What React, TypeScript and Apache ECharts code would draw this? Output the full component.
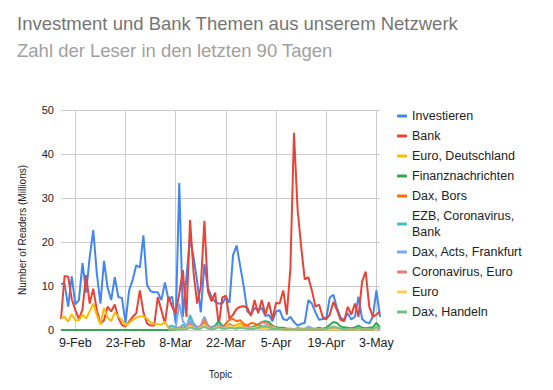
import React, { useEffect, useRef } from "react";
import * as echarts from "echarts";

const START = new Date(2020, 1, 5);
const DAY_COUNT = 90;
const MONTHS = ["Jan", "Feb", "Mar", "Apr", "May", "Jun", "Jul", "Aug", "Sep", "Oct", "Nov", "Dec"];
const categories: string[] = Array.from({ length: DAY_COUNT }, (_, i) => {
  const d = new Date(START.getTime());
  d.setDate(d.getDate() + i);
  return `${d.getDate()}-${MONTHS[d.getMonth()]}`;
});
const tickLabels = ["9-Feb", "23-Feb", "8-Mar", "22-Mar", "5-Apr", "19-Apr", "3-May"];
const yTicks = [0, 10, 20, 30, 40, 50];

const investieren = [
  10.5, 10.5, 5.3, 12.2, 5.8, 6.8, 15.2, 8.5, 16.5, 22.7,
  12.8, 6, 15.7, 9.6, 6.8, 12, 7.5, 7.3, 1.6, 9,
  11.4, 14.7, 14.2, 21.5, 10.2, 8.8, 8.6, 8.6, 6.8, 10.8,
  6.8, 7.6, 1.5, 33.4, 3, 12, 20.8, 16.5, 11, 4,
  15, 9.5, 7.5, 6.4, 6, 6, 7.5, 6.2, 17, 19.2,
  14.5, 9.8, 4.2, 3.5, 5, 4.6, 5, 3.2, 3.4, 2,
  4.2, 4.5, 2.5, 2.2, 3, 1.8, 1, 1.4, 1.6, 6.8,
  6, 4, 2.3, 2.5, 2.5, 7.4, 8, 5, 2.8, 2.3,
  3.8, 2.4, 3, 7.6, 2.5, 1.8, 1.5, 3, 9, 3,
];
const bank = [
  2.5, 12.3, 12.1, 7, 4.5, 2.5, 4.7, 12.5, 6, 9.4,
  4.5, 1.5, 2.2, 5.3, 4.2, 5.8, 2.7, 1.1, 0.8, 1.9,
  3, 3.8, 9, 4, 1.5, 1, 1, 7.5, 4.5, 1.5,
  7.6, 5.3, 3.8, 8.3, 13.6, 3, 25, 12.9, 6, 9.8,
  24.8, 8.7, 6.5, 8.5, 1, 7.4, 7.8, 2.5, 3.5, 4.8,
  5.3, 5.4, 5, 3.2, 6.8, 3.8, 6.8, 3.5, 6.3, 2.5,
  6.2, 6, 9, 3.5, 14, 44.8, 27.5, 19, 11.5, 12,
  9, 5.3, 5.8, 3, 2.5, 3.5, 6.4, 4.5, 2.3, 2,
  5.3, 3.5, 6, 3, 11, 13.3, 5.3, 3, 3.5, 4.2,
];
const euroDeutschland = [
  2.7, 3, 1.9, 3.6, 2.2, 2.2, 3.5, 2.6, 4.3, 6,
  3.4, 1.2, 5, 2.8, 2, 4, 3, 2.3, 1, 1.6,
  2.3, 2.8, 3.1, 3.1, 2.6, 1.7, 1.4, 1.3, 1.2, 1.9,
  0.4, 0.3, 0.2, 0.5, 0.3, 0.2, 1.5, 0.5, 0.3, 0.8,
  1.8, 0.5, 0.3, 0.6, 1.2, 0.5, 0.8, 1.5, 0.8, 1.2,
  1.5, 1, 0.6, 0.4, 0.8, 1.2, 0.5, 0.4, 0.8, 1,
  0.5, 0.3, 0.2, 0.2, 0.1, 0.2, 0.3, 0.2, 0.2, 0.1,
  0.2, 0.2, 0.3, 0.2, 0.2, 0.2, 0.1, 0.2, 0.2, 0.3,
  0.2, 0.2, 0.1, 0.2, 0.4, 0.2, 0.1, 0.2, 0.3, 0.2,
];
const finanznachrichten = [
  0, 0, 0, 0, 0, 0, 0, 0, 0, 0,
  0, 0, 0, 0, 0, 0, 0, 0, 0, 0,
  0, 0, 0, 0, 0, 0, 0, 0, 0, 0,
  0, 0, 0.1, 0.2, 0.3, 0.5, 1.2, 0.8, 0.3, 0.5,
  1, 0.5, 0.6, 1, 2, 1, 0.5, 1.2, 0.8, 0.6,
  1, 0.8, 0.6, 0.5, 0.8, 1.3, 1.8, 2, 1.8, 1,
  0.6, 0.5, 0.5, 0.3, 0.3, 0.2, 0.4, 0.3, 0.3, 0.2,
  0.3, 0.3, 0.5, 0.3, 0.5, 1.2, 1.8, 1.6, 0.8, 0.6,
  0.5, 0.4, 0.6, 1, 0.5, 0.4, 0.5, 0.6, 1.6, 0.6,
];
const N = null;
const daxBors = [
  N, N, N, N, N, N, N, N, N, N,
  N, N, N, N, N, N, N, N, N, N,
  N, N, N, N, N, N, N, N, N, N,
  0.2, 0.3, 0.2, 0.4, 0.3, 0.6, 2, 0.8, 0.4, 0.6,
  1.5, 0.6, 0.4, 0.8, 1.2, 0.6, 1.5, 2.3, 2.5, 2,
  2.2, 1.4, 1, 1.6, 1.5, 1, 0.8, 0.6, 0.5, 0.4,
  0.3, 0.2, 0.2, 0.1, 0.2, 0.2, 0.1, 0.1, 0.2, 0.1,
  0.1, 0.2, 0.1, 0.1, 0.2, 0.1, 0.1, 0.1, 0.2, 0.1,
  0.1, 0.1, 0.2, 0.1, 0.1, 0.2, 0.1, 0.1, 0.2, 0.1,
];
const ezbCoronavirusBank = [
  N, N, N, N, N, N, N, N, N, N,
  N, N, N, N, N, N, N, N, N, N,
  N, N, N, N, N, N, N, N, N, N,
  0.8, 1, 0.6, 0.4, 1.2, 0.6, 3.4, 1.5, 0.6, 1,
  3, 1, 0.5, 0.8, 1.5, 0.6, 0.5, 0.8, 1, 0.6,
  0.5, 0.4, 0.5, 0.3, 0.5, 0.4, 0.6, 0.4, 0.3, 0.3,
  0.2, 0.3, 0.2, 0.2, 0.1, 0.2, 0.2, 0.1, 0.2, 0.1,
  0.2, 0.1, 0.1, 0.2, 0.1, 0.2, 0.1, 0.1, 0.2, 0.1,
  0.1, 0.2, 0.1, 0.1, 0.2, 0.1, 0.1, 0.2, 0.1, 0.1,
];
const daxActsFrankfurt = [
  N, N, N, N, N, N, N, N, N, N,
  N, N, N, N, N, N, N, N, N, N,
  N, N, N, N, N, N, N, N, N, N,
  0.6, 0.3, 0.5, 6, 2, 0.8, 2.4, 0.8, 0.5, 0.7,
  3, 0.8, 0.5, 0.6, 1, 0.4, 0.6, 1, 0.6, 0.5,
  0.8, 0.5, 0.4, 0.3, 0.5, 0.4, 0.3, 0.4, 0.3, 0.2,
  0.3, 0.2, 0.2, 0.3, 0.2, 0.2, 0.1, 0.2, 0.2, 0.8,
  0.4, 0.2, 0.2, 0.1, 0.2, 0.6, 0.4, 0.2, 0.2, 0.1,
  0.2, 0.1, 0.2, 0.5, 0.2, 0.1, 0.1, 0.2, 0.6, 0.2,
];
const coronavirusEuro = [
  N, N, N, N, N, N, N, N, N, N,
  N, N, N, N, N, N, N, N, N, N,
  N, N, N, N, N, N, N, N, N, N,
  0.3, 0.2, 0.4, 0.6, 0.5, 0.4, 1.5, 0.6, 0.4, 0.8,
  2.5, 0.8, 0.4, 0.6, 1, 0.5, 0.6, 1.2, 0.6, 0.4,
  0.6, 0.5, 0.8, 0.5, 0.4, 0.6, 1.8, 1.5, 1.2, 0.8,
  0.4, 0.3, 0.2, 0.2, 0.3, 0.2, 0.1, 0.2, 0.1, 0.2,
  0.1, 0.2, 0.1, 0.2, 0.1, 0.2, 0.3, 0.1, 0.2, 0.1,
  0.2, 0.1, 0.2, 0.3, 0.1, 0.2, 0.1, 0.2, 0.3, 0.1,
];
const euro = [
  N, N, N, N, N, N, N, N, N, N,
  N, N, N, N, N, N, N, N, N, N,
  N, N, N, N, N, N, N, N, N, N,
  0.2, 0.1, 0.2, 0.3, 0.2, 0.3, 1, 0.4, 0.2, 0.5,
  1.2, 0.4, 0.2, 0.4, 0.8, 0.3, 0.5, 1, 0.6, 0.8,
  1, 0.6, 0.4, 0.3, 0.5, 0.6, 0.4, 0.3, 0.5, 0.6,
  0.3, 0.2, 0.1, 0.1, 0.1, 0.1, 0.2, 0.1, 0.1, 0.1,
  0.1, 0.1, 0.2, 0.1, 0.1, 0.1, 0.1, 0.1, 0.1, 0.2,
  0.1, 0.1, 0.1, 0.1, 0.2, 0.1, 0.1, 0.1, 0.2, 0.1,
];
const daxHandeln = [
  N, N, N, N, N, N, N, N, N, N,
  N, N, N, N, N, N, N, N, N, N,
  N, N, N, N, N, N, N, N, N, N,
  0.1, 0.1, 0.1, 0.2, 0.1, 0.2, 0.6, 0.3, 0.2, 0.3,
  0.8, 0.3, 0.2, 0.3, 0.6, 0.3, 0.3, 0.5, 0.4, 0.3,
  0.5, 0.4, 0.3, 0.2, 0.3, 0.5, 0.8, 0.9, 0.7, 0.4,
  0.2, 0.2, 0.1, 0.1, 0.1, 0.1, 0.1, 0.1, 0.1, 0.1,
  0.1, 0.1, 0.2, 0.1, 0.2, 0.5, 0.8, 0.6, 0.3, 0.2,
  0.2, 0.1, 0.2, 0.4, 0.2, 0.1, 0.2, 0.2, 0.7, 0.2,
];

const seriesNames = [
  "Investieren",
  "Bank",
  "Euro, Deutschland",
  "Finanznachrichten",
  "Dax, Bors",
  "EZB, Coronavirus, Bank",
  "Dax, Acts, Frankfurt",
  "Coronavirus, Euro",
  "Euro",
  "Dax, Handeln",
];
const seriesData = [
  investieren,
  bank,
  euroDeutschland,
  finanznachrichten,
  daxBors,
  ezbCoronavirusBank,
  daxActsFrankfurt,
  coronavirusEuro,
  euro,
  daxHandeln,
];
const colors = [
  "#4285F4", "#EA4335", "#FBBC04", "#34A853", "#FF6D01",
  "#46BDC6", "#7BAAF7", "#F07B72", "#FCD04F", "#71C287",
];

const FONT = "Arial, 'Liberation Sans', sans-serif";

export default function App() {
  const ref = useRef<HTMLDivElement>(null);
  useEffect(() => {
    document.body.style.margin = "0";
    if (!ref.current) return;
    const chart = echarts.init(ref.current, null, { renderer: "svg" });
    const showTick = (_i: number, v: string) => tickLabels.indexOf(v) >= 0;
    chart.setOption({
      animation: false,
      color: colors,
      textStyle: { fontFamily: FONT },
      grid: { left: 61, right: 173, top: 110, bottom: 60 },
      graphic: [
        {
          type: "text",
          x: 17,
          y: 23,
          style: {
            text: "Investment und Bank Themen aus unserem Netzwerk",
            font: `18.5px ${FONT}`,
            fill: "#757575",
            verticalAlign: "middle",
          },
        },
        {
          type: "text",
          x: 17,
          y: 50,
          style: {
            text: "Zahl der Leser in den letzten 90 Tagen",
            font: `18.5px ${FONT}`,
            fill: "#a0a0a0",
            verticalAlign: "middle",
          },
        },
        {
          type: "text",
          x: 22,
          y: 230,
          rotation: Math.PI / 2,
          style: {
            text: "Number of Readers (Millions)",
            font: `10px ${FONT}`,
            fill: "#222",
            align: "center",
            verticalAlign: "middle",
          },
        },
      ],
      legend: {
        orient: "vertical",
        left: 392,
        top: 103,
        itemGap: 4,
        itemWidth: 10,
        itemHeight: 3,
        icon: "roundRect",
        data: seriesNames,
        formatter: (n: string) => (n === "EZB, Coronavirus, Bank" ? "EZB, Coronavirus,\nBank" : n),
        textStyle: { fontSize: 12.5, color: "#222", lineHeight: 16, fontFamily: FONT },
      },
      xAxis: {
        type: "category",
        data: categories,
        boundaryGap: false,
        name: "Topic",
        nameLocation: "middle",
        nameGap: 39,
        nameTextStyle: { fontSize: 10, color: "#222", fontFamily: FONT },
        axisLine: { show: true, lineStyle: { color: "#cccccc" } },
        axisTick: { show: false },
        axisLabel: {
          interval: showTick,
          fontSize: 12.5,
          color: "#222",
          margin: 6,
          fontFamily: FONT,
        },
        splitLine: { show: true, interval: showTick, lineStyle: { color: "#cccccc", width: 1 } },
      },
      yAxis: {
        type: "value",
        min: yTicks[0],
        max: yTicks[yTicks.length - 1],
        interval: 10,
        axisLine: { show: false },
        axisTick: { show: false },
        axisLabel: { fontSize: 11, color: "#222", margin: 7, fontFamily: FONT },
        splitLine: { show: true, lineStyle: { color: "#cccccc", width: 1 } },
      },
      series: seriesNames.map((name, k) => ({
        name,
        type: "line",
        data: seriesData[k],
        showSymbol: false,
        symbol: "none",
        connectNulls: false,
        lineStyle: { width: 2, color: colors[k] },
        itemStyle: { color: colors[k] },
        z: 2,
      })),
    });
    return () => chart.dispose();
  }, []);
  return <div ref={ref} style={{ width: 553, height: 390 }} />;
}
